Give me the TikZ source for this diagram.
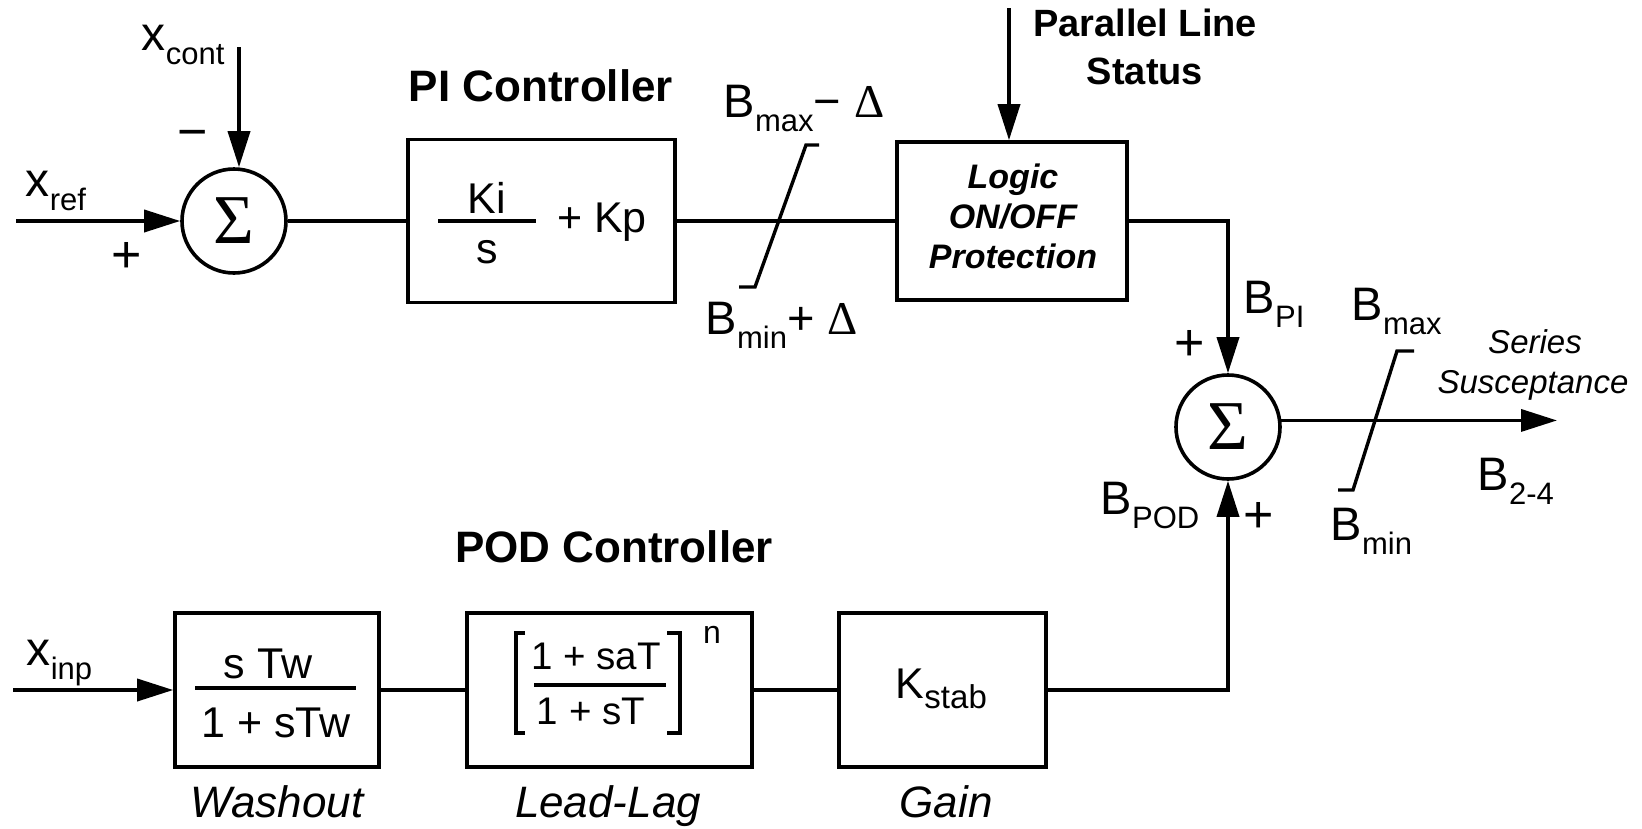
\documentclass[tikz,border=0pt]{standalone}
\usepackage{fontspec}
\setmainfont{Liberation Sans}
\newfontfamily\sigfont{Liberation Serif}
\usetikzlibrary{arrows.meta,calc}
\newcommand{\subtx}[2][14pt]{\raisebox{-#1}{\fontsize{31}{31}\selectfont #2}}
\newcommand{\dlt}{{\sigfont Δ}}
\begin{document}
\begin{tikzpicture}[x=1pt,y=-1pt,line width=3.6pt,
  blk/.style={draw,rectangle,inner sep=0pt},
  sumc/.style={draw,circle,minimum size=104pt,inner sep=0pt,font=\fontsize{70}{70}\selectfont\sigfont},
  arr/.style={-{Triangle[length=36pt,width=22pt]}},
  lbl/.style={inner sep=0pt,anchor=base west,font=\fontsize{47}{47}\selectfont},
  xlbl/.style={inner sep=0pt,anchor=base west,font=\fontsize{48}{48}\selectfont},
  hd/.style={inner sep=0pt,anchor=base,font=\fontsize{44}{44}\selectfont\bfseries},
  phd/.style={inner sep=0pt,anchor=base,font=\fontsize{38}{38}\selectfont\bfseries},
  lgt/.style={inner sep=0pt,anchor=base,font=\fontsize{34}{34}\selectfont\bfseries\itshape},
  tx/.style={inner sep=0pt,anchor=base,font=\fontsize{43}{43}\selectfont},
  txs/.style={inner sep=0pt,anchor=base,font=\fontsize{38.5}{38.5}\selectfont},
  sertx/.style={inner sep=0pt,anchor=base,font=\fontsize{33}{33}\selectfont\itshape},
  captx/.style={inner sep=0pt,anchor=base,font=\fontsize{44}{44}\selectfont\itshape},
  sgn/.style={inner sep=0pt,anchor=center,font=\fontsize{52}{52}\selectfont},
  sat/.style={line width=3.4pt}
]
\fill[white] (0,0) rectangle (1642,828);
\useasboundingbox (0,0) rectangle (1642,828);

% ---------- blocks ----------
\node[sumc] (s1) at (234,221) {Σ};
\node[blk,minimum width=267pt,minimum height=163pt] (pi) at (541.5,221) {};
\node[blk,minimum width=230pt,minimum height=158pt] (logic) at (1012,221) {};
\node[sumc] (s2) at (1228,427) {Σ};
\node[blk,minimum width=204pt,minimum height=154pt] (wash) at (277,690) {};
\node[blk,minimum width=285pt,minimum height=154pt] (ll) at (609.5,690) {};
\node[blk,minimum width=207pt,minimum height=154pt] (gain) at (942.5,690) {};

% ---------- headings ----------
\node[hd] (pihd) at (541,101) {PI Controller};
\node[hd] (podhd) at (614,562) {POD Controller};
\node[phd] (plsa) at (1145,36) {Parallel Line};
\node[phd] (plsb) at (1145,84) {Status};

% ---------- block contents ----------
\node[tx] (ki) at (487,213) {Ki};
\node[tx] (kis) at (487,263) {s};
\draw (438,221) -- (536,221);
\node[tx] (kp) at (602,232) {+ Kp};

\node[lgt] (lg1) at (1013,188) {Logic};
\node[lgt] (lg2) at (1013,228) {ON/OFF};
\node[lgt] (lg3) at (1013,268) {Protection};

\node[tx] (wn) at (268,678) {s Tw};
\draw (195,688) -- (356,688);
\node[tx] (wd) at (276,737) {1 + sTw};

\node[txs] (lln) at (596,669) {1 + saT};
\draw (534,685) -- (666,685);
\node[txs] (lld) at (591,724) {1 + sT};
\draw (525,633) -- (516,633) -- (516,733) -- (525,733);
\draw (667,633) -- (680,633) -- (680,733) -- (667,733);
\node[inner sep=0pt,anchor=base,font=\fontsize{32}{32}\selectfont] (llexp) at (712,643) {n};

\node[inner sep=0pt,anchor=base west,font=\fontsize{43}{43}\selectfont] (ks) at (894,698) {K\raisebox{-10pt}{\fontsize{33}{33}\selectfont stab}};

% ---------- captions ----------
\node[captx] (cw) at (277,817) {Washout};
\node[captx] (cl) at (608,817) {Lead-Lag};
\node[captx] (cg) at (946,817) {Gain};

% ---------- signal labels ----------
\node[xlbl] (lxref) at (24,196) {x\subtx{ref}};
\node[xlbl] (lxcont) at (140,50) {x\subtx{cont}};
\node[xlbl] (lxinp) at (25,665) {x\subtx{inp}};
\node[sgn] (p1) at (127,257) {+};
\node[sgn] (m1) at (193,140) {−};

\node[lbl] (lbmaxd) at (722,117) {B\subtx{max}− \dlt};
\node[lbl] (lbmind) at (704,334) {B\subtx{min}+ \dlt};
\node[lbl] (lbpi) at (1242,313) {B\subtx{PI}};
\node[lbl] (lbmax) at (1350,320) {B\subtx{max}};
\node[lbl] (lbmin) at (1329,540) {B\subtx{min}};
\node[lbl] (lbpod) at (1099,514) {B\subtx{POD}};
\node[lbl] (lb24) at (1476,490) {B\subtx{2-4}};
\node[sgn] (p2) at (1190,345) {+};
\node[sgn] (p3) at (1259,517) {+};

\node[sertx] (ser1) at (1535,353) {Series};
\node[sertx] (ser2) at (1533,393) {Susceptance};

% ---------- limiters ----------
\draw[sat] (739,287) -- (755,287) -- (806,145) -- (819,145);
\draw[sat] (1338,490) -- (1353,490) -- (1397,351) -- (1414,351);

% ---------- connectors ----------
\coordinate (xr) at (16,221);
\coordinate (xc) at (239,47);
\coordinate (pl) at (1009,8);
\coordinate (xi) at (13,690);
\coordinate (outend) at (1557,421);

\draw[arr] (xr) -- (s1.west);
\draw[arr] (xc) -- (xc |- s1.north);
\draw (s1.east) -- (pi.west);
\draw (pi.east) -- (logic.west);
\draw[arr] (pl) -- (pl |- logic.north);
\draw[arr] (logic.east) -| (s2.north);
\draw[arr] (s2.7) -- (s2.7 -| outend);
\draw[arr] (xi) -- (wash.west);
\draw (wash.east) -- (ll.west);
\draw (ll.east) -- (gain.west);
\draw[arr] (gain.east) -| (s2.south);
\end{tikzpicture}
\end{document}
